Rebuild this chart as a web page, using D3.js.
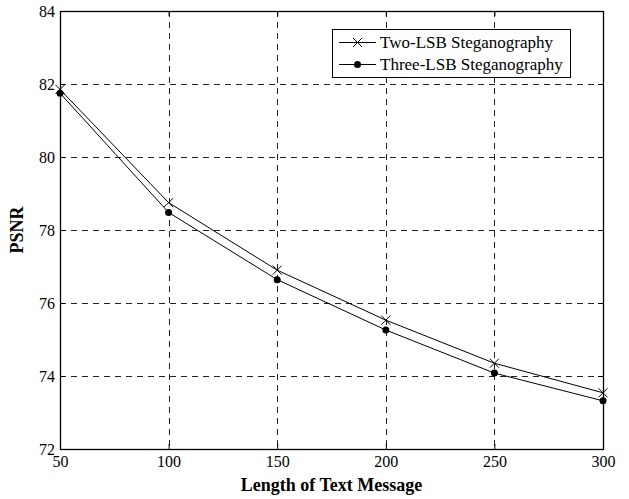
<!DOCTYPE html>
<html>
<head>
<meta charset="utf-8">
<script src="https://cdn.jsdelivr.net/npm/d3@7"></script>
<style>
body { margin: 0; background: #fff; }
svg { display: block; font-family: "Liberation Serif", "Times New Roman", serif; }
</style>
</head>
<body>
<svg id="chart" width="629" height="499"></svg>
<script>
var lengths = [50, 100, 150, 200, 250, 300];
var twoLsb = [81.85, 78.75, 76.9, 75.53, 74.35, 73.54];
var threeLsb = [81.75, 78.48, 76.64, 75.26, 74.08, 73.32];
var xTicks = [50, 100, 150, 200, 250, 300];
var yTicks = [72, 74, 76, 78, 80, 82, 84];
var seriesNames = ["Two-LSB Steganography", "Three-LSB Steganography"];

var plotLeft = 60, plotRight = 603, plotTop = 11, plotBottom = 449;

var svg = d3.select("#chart");

var x = d3.scaleLinear().domain([50, 300]).range([plotLeft, plotRight]);
var y = d3.scaleLinear().domain([72, 84]).range([plotBottom, plotTop]);

// grid
var grid = svg.append("g")
	.attr("stroke", "#222")
	.attr("stroke-width", 1)
	.attr("stroke-dasharray", "6,5");

grid.selectAll(".gx")
	.data(xTicks.slice(1, -1))
	.enter()
	.append("line")
	.attr("x1", function(d) { return Math.round(x(d)) + 0.5; })
	.attr("x2", function(d) { return Math.round(x(d)) + 0.5; })
	.attr("y1", plotTop)
	.attr("y2", plotBottom);

grid.selectAll(".gy")
	.data(yTicks.slice(1, -1))
	.enter()
	.append("line")
	.attr("y1", function(d) { return Math.round(y(d)) + 0.5; })
	.attr("y2", function(d) { return Math.round(y(d)) + 0.5; })
	.attr("x1", plotLeft)
	.attr("x2", plotRight);

// axes (ticks inside)
var xAxis = d3.axisBottom(x).tickValues(xTicks).tickSizeInner(-5).tickSizeOuter(0).tickPadding(7);
var yAxis = d3.axisLeft(y).tickValues(yTicks).tickSizeInner(-5).tickSizeOuter(0).tickPadding(5);

var gx = svg.append("g").attr("transform", "translate(0," + plotBottom + ")").call(xAxis);
var gy = svg.append("g").attr("transform", "translate(" + plotLeft + ",0)").call(yAxis);
var gxTop = svg.append("g").attr("transform", "translate(0," + plotTop + ")")
	.call(d3.axisTop(x).tickValues(xTicks).tickSizeInner(-5).tickSizeOuter(0).tickFormat(""));
var gyRight = svg.append("g").attr("transform", "translate(" + plotRight + ",0)")
	.call(d3.axisRight(y).tickValues(yTicks).tickSizeInner(-5).tickSizeOuter(0).tickFormat(""));

[gx, gy, gxTop, gyRight].forEach(function(g) {
	g.select(".domain").remove();
	g.selectAll("line").attr("stroke", "#000");
	g.selectAll("text")
		.attr("fill", "#000")
		.style("font-family", "'Liberation Serif', 'Times New Roman', serif")
		.style("font-size", "16px");
});

// box
svg.append("rect")
	.attr("x", plotLeft + 0.5)
	.attr("y", plotTop + 0.5)
	.attr("width", plotRight - plotLeft)
	.attr("height", plotBottom - plotTop)
	.attr("fill", "none")
	.attr("stroke", "#000")
	.attr("stroke-width", 1.3);

// lines
var line = d3.line()
	.x(function(d) { return x(d[0]); })
	.y(function(d) { return y(d[1]); });

var twoData = lengths.map(function(l, i) { return [l, twoLsb[i]]; });
var threeData = lengths.map(function(l, i) { return [l, threeLsb[i]]; });

[twoData, threeData].forEach(function(data) {
	svg.append("path")
		.datum(data)
		.attr("d", line)
		.attr("fill", "none")
		.attr("stroke", "#000")
		.attr("stroke-width", 1);
});

function crossPath(cx, cy, s) {
	return "M" + (cx - s) + "," + (cy - s) + "L" + (cx + s) + "," + (cy + s) +
		"M" + (cx - s) + "," + (cy + s) + "L" + (cx + s) + "," + (cy - s);
}

svg.selectAll(".cross")
	.data(twoData)
	.enter()
	.append("path")
	.attr("d", function(d) { return crossPath(x(d[0]), y(d[1]), 4.5); })
	.attr("stroke", "#000")
	.attr("stroke-width", 1)
	.attr("fill", "none");

svg.selectAll(".dot")
	.data(threeData)
	.enter()
	.append("circle")
	.attr("cx", function(d) { return x(d[0]); })
	.attr("cy", function(d) { return y(d[1]); })
	.attr("r", 3.5)
	.attr("fill", "#000");

// legend
var legend = svg.append("g");
legend.append("rect")
	.attr("x", 332.5)
	.attr("y", 29.5)
	.attr("width", 238)
	.attr("height", 48)
	.attr("fill", "#fff")
	.attr("stroke", "#000")
	.attr("stroke-width", 1);

seriesNames.forEach(function(name, i) {
	var ly = 42 + i * 22;
	legend.append("line")
		.attr("x1", 339).attr("x2", 376)
		.attr("y1", ly + 0.5).attr("y2", ly + 0.5)
		.attr("stroke", "#000");
	if (i === 0) {
		legend.append("path")
			.attr("d", crossPath(357.5, ly + 0.5, 4.5))
			.attr("stroke", "#000")
			.attr("fill", "none");
	} else {
		legend.append("circle")
			.attr("cx", 357.5).attr("cy", ly + 0.5).attr("r", 3.5)
			.attr("fill", "#000");
	}
	legend.append("text")
		.attr("x", 380)
		.attr("y", ly + 6)
		.style("font-size", "17px")
		.text(name);
});

// axis titles
svg.append("text")
	.attr("x", (plotLeft + plotRight) / 2)
	.attr("y", 491)
	.attr("text-anchor", "middle")
	.style("font-size", "18px")
	.style("font-weight", "bold")
	.text("Length of Text Message");

svg.append("text")
	.attr("transform", "translate(23," + ((plotTop + plotBottom) / 2) + ") rotate(-90)")
	.attr("text-anchor", "middle")
	.style("font-size", "18px")
	.style("font-weight", "bold")
	.text("PSNR");
</script>
</body>
</html>
